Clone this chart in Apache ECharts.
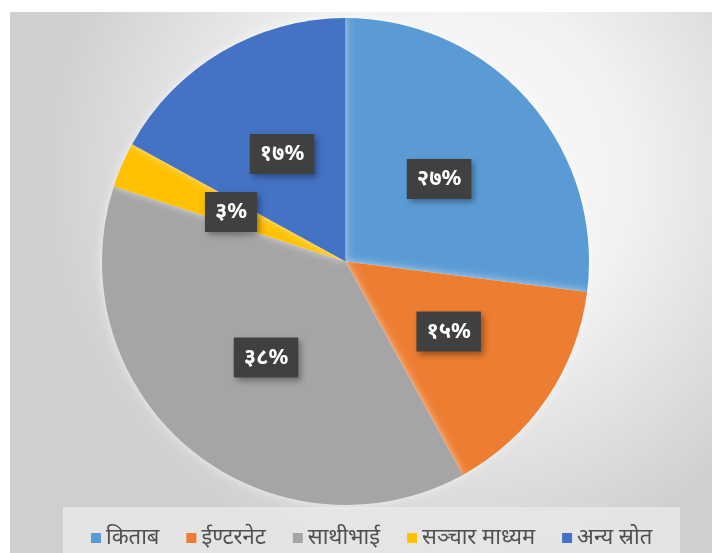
<!DOCTYPE html>
<html>
<head>
<meta charset="utf-8">
<script src="https://cdn.jsdelivr.net/npm/echarts@6/dist/echarts.min.js"></script>
<style>
html,body{margin:0;padding:0;background:#fff;}
#c{width:712px;height:553px;}
</style>
</head>
<body>
<div id="c"></div>
<script>
var categories = ['किताब', 'ईण्टरनेट', 'साथीभाई', 'सञ्चार माध्यम', 'अन्य स्रोत'];
var values = [27, 15, 38, 3, 17];
var colors = ['#5B9BD5', '#ED7D31', '#A5A5A5', '#FFC000', '#4472C4'];

var devDigits = ['०','१','२','३','४','५','६','७','८','९'];
function toDev(n) {
  return String(n).replace(/[0-9]/g, function (d) { return devDigits[+d]; });
}

var chart = echarts.init(document.getElementById('c'));
var data = categories.map(function (name, i) {
  return { name: name, value: values[i], itemStyle: { color: colors[i] } };
});

chart.setOption({
  backgroundColor: '#ffffff',
  animation: false,
  graphic: [
    {
      type: 'rect', z: -10, silent: true,
      shape: { x: 10, y: 12, width: 702, height: 541 },
      style: {
        fill: new echarts.graphic.RadialGradient(0.62, 0.3, 0.75, [
          { offset: 0, color: '#fbfbfb' },
          { offset: 0.45, color: '#f2f2f2' },
          { offset: 1, color: '#cfcfcf' }
        ])
      }
    },
    {
      type: 'rect', z: -5, silent: true,
      shape: { x: 63, y: 507, width: 617, height: 46 },
      style: { fill: 'rgba(232,232,232,0.85)' }
    }
  ],
  legend: {
    data: categories,
    left: 86,
    top: 522,
    itemWidth: 10,
    itemHeight: 10,
    itemGap: 27,
    icon: 'rect',
    textStyle: { color: '#505050', fontSize: 22, fontFamily: 'Noto Sans, sans-serif', padding: [0, 0, 0, 0] }
  },
  series: [{
    type: 'pie',
    center: [345.5, 261.5],
    radius: [0, 243.5],
    startAngle: 90,
    clockwise: true,
    data: data,
    itemStyle: { borderWidth: 0, shadowBlur: 8, shadowColor: 'rgba(255,255,255,0.6)' },
    emphasis: { disabled: true },
    label: {
      show: true,
      position: 'inside',
      formatter: function (p) { return toDev(p.value) + '%'; },
      color: '#ffffff',
      fontSize: 22,
      fontWeight: 'bold',
      fontFamily: 'Noto Sans, sans-serif',
      backgroundColor: '#404040',
      padding: [10, 10, 8, 10],
      shadowBlur: 6,
      shadowOffsetX: 3,
      shadowOffsetY: 3,
      shadowColor: 'rgba(0,0,0,0.35)'
    },
    labelLine: { show: false }
  }]
});
</script>
</body>
</html>
